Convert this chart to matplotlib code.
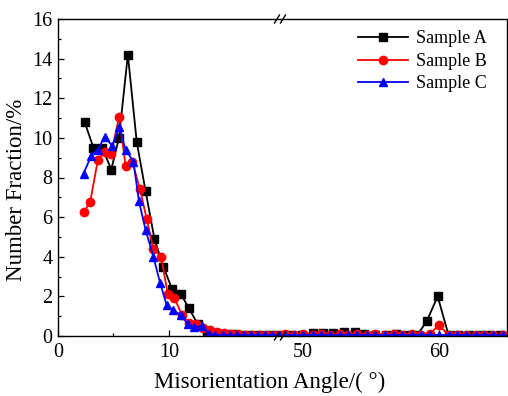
import numpy as np
import matplotlib
matplotlib.use("Agg")
import matplotlib.pyplot as plt
from matplotlib.ticker import MultipleLocator

plt.rcParams['font.family'] = ['Liberation Serif', 'DejaVu Serif']

# ---- data ----
# left part of the broken axis (0 .. ~20 deg)
a_x_left = [2.4, 3.2, 4.0, 4.8, 5.5, 6.3, 7.1, 7.9, 8.7, 9.5, 10.3, 11.1,
            11.8, 12.6, 13.4, 14.2, 15.0, 15.7, 16.5, 17.3, 18.1, 18.9, 19.7]
a_y_left = [10.8, 9.5, 9.5, 8.4, 10.0, 14.2, 9.8, 7.3, 4.9, 3.5, 2.35, 2.1,
            1.4, 0.6, 0.2, 0.1, 0.1, 0.1, 0.05, 0.05, 0.05, 0.05, 0.05]

b_x_left = [2.3, 2.9, 3.6, 4.2, 4.8, 5.5, 6.1, 6.7, 7.4, 8.0, 8.6, 9.3, 9.9,
            10.5, 11.2, 11.8, 12.4, 13.1, 13.7, 14.3, 15.0, 15.6, 16.2, 16.9,
            17.5, 18.1, 18.8, 19.4, 20.0]
b_y_left = [6.25, 6.75, 8.9, 9.3, 9.2, 11.05, 8.6, 8.8, 7.4, 5.9, 4.4, 4.0,
            2.1, 1.9, 1.05, 0.65, 0.6, 0.4, 0.3, 0.2, 0.15, 0.1, 0.1, 0.05,
            0.05, 0.05, 0.05, 0.05, 0.05]

c_x_left = [2.3, 3.0, 3.6, 4.2, 4.9, 5.5, 6.1, 6.8, 7.3, 7.9, 8.6, 9.2, 9.8,
            10.4, 11.1, 11.7, 12.3, 13.0, 13.6, 14.2, 14.9, 15.5, 16.1, 16.8,
            17.4, 18.0, 18.7, 19.3, 19.9]
c_y_left = [8.2, 9.1, 9.4, 10.05, 9.6, 10.55, 9.4, 8.8, 6.8, 5.35, 4.0, 2.7,
            1.55, 1.3, 1.05, 0.6, 0.45, 0.5, 0.1, 0.05, 0.05, 0.05, 0.05,
            0.05, 0.05, 0.05, 0.05, 0.05, 0.05]

# right part of the broken axis (~48.5 .. 65 deg)
a_x_right = [49.2, 49.9, 50.7, 51.5, 52.2, 53.0, 53.8, 54.5, 55.3, 56.1, 56.8,
             57.6, 58.4, 59.1, 59.9, 60.7, 61.4, 62.2, 63.0, 63.7, 64.5]
a_y_right = [0.05, 0.05, 0.15, 0.15, 0.15, 0.2, 0.2, 0.1, 0.05, 0.05, 0.1,
             0.05, 0.05, 0.75, 2.0, 0.05, 0.05, 0.05, 0.05, 0.05, 0.05]

bc_x_right = [48.7, 49.3, 50.0, 50.7, 51.3, 52.0, 52.7, 53.3, 54.0, 54.7,
              55.3, 56.0, 56.7, 57.3, 58.0, 58.7, 59.3, 60.0, 60.7, 61.3,
              62.0, 62.7, 63.3, 64.0, 64.7]
b_y_right = [0.1, 0.05, 0.1, 0.05, 0.1, 0.05, 0.1, 0.05, 0.1, 0.05, 0.1, 0.05,
             0.1, 0.05, 0.1, 0.05, 0.1, 0.55, 0.05, 0.05, 0.05, 0.05, 0.05,
             0.05, 0.05]
c_y_right = [0.03] * 25

labels = ["Sample A", "Sample B", "Sample C"]

# ---- figure ----
W, H = 508, 396
fig = plt.figure(figsize=(W / 100, H / 100), dpi=100)
x0, xb, x1 = 58, 282, 507
ytop, ybot = 19, 336
bot = 1 - ybot / H
hgt = (ybot - ytop) / H
ax1 = fig.add_axes([x0 / W, bot, (xb - x0) / W, hgt])
ax2 = fig.add_axes([xb / W, bot, (x1 - xb) / W, hgt], sharey=ax1)

styles = [dict(color="black", marker="s", ms=5.5),
          dict(color="red", marker="o", ms=6),
          dict(color="blue", marker="^", ms=6)]
left = [(a_x_left, a_y_left), (b_x_left, b_y_left), (c_x_left, c_y_left)]
right = [(a_x_right, a_y_right), (bc_x_right, b_y_right), (bc_x_right, c_y_right)]

handles = []
for (x, y), st, lab in zip(left, styles, labels):
    h, = ax1.plot(x, y, lw=1.3, label=lab, **st)
    handles.append(h)
for (x, y), st in zip(right, styles):
    ax2.plot(x, y, lw=1.3, **st)

ax1.set_xlim(0, 20.2)
ax2.set_xlim(48.45, 65.0)
ax1.set_ylim(0, 16)

ax1.spines['right'].set_visible(False)
ax2.spines['left'].set_visible(False)
for ax in (ax1, ax2):
    for s in ax.spines.values():
        s.set_linewidth(1.0)
    ax.tick_params(which='both', direction='in', labelsize=14.5, width=0.9)
    ax.tick_params(which='major', length=4.5)
    ax.tick_params(which='minor', length=2.5)
    ax.tick_params(axis='x', pad=5)

ax1.set_xticks([0, 10])
ax1.xaxis.set_minor_locator(MultipleLocator(5))
ax1.yaxis.set_major_locator(MultipleLocator(2))
ax1.yaxis.set_minor_locator(MultipleLocator(1))
ax1.tick_params(axis='y', pad=4)
ax2.set_xticks([50, 60])
ax2.xaxis.set_minor_locator(MultipleLocator(5))
ax2.tick_params(axis='y', which='both', left=False, labelleft=False)

# break marks "//"
for yy in (ytop, ybot):
    for dx in (-5, 1):
        xs = np.array([xb + dx - 2.5, xb + dx + 2.5]) / W
        ys = 1 - np.array([yy + 4, yy - 4]) / H
        fig.add_artist(plt.Line2D(xs, ys, color="black", lw=1.0))

ax2.legend(handles, labels, loc="upper right", bbox_to_anchor=(0.98, 1.015),
           frameon=False, fontsize=13, handlelength=2.8, labelspacing=0.3,
           handletextpad=0.4)

fig.text(270 / W, 1 - 382 / H, "Misorientation Angle/( °)", ha="center",
         va="center", fontsize=16.5)
fig.text(17 / W, 1 - 190 / H, "Number Fraction/%", ha="center", va="center",
         rotation=90, fontsize=16.5)

fig.savefig("out.png", dpi=100)
